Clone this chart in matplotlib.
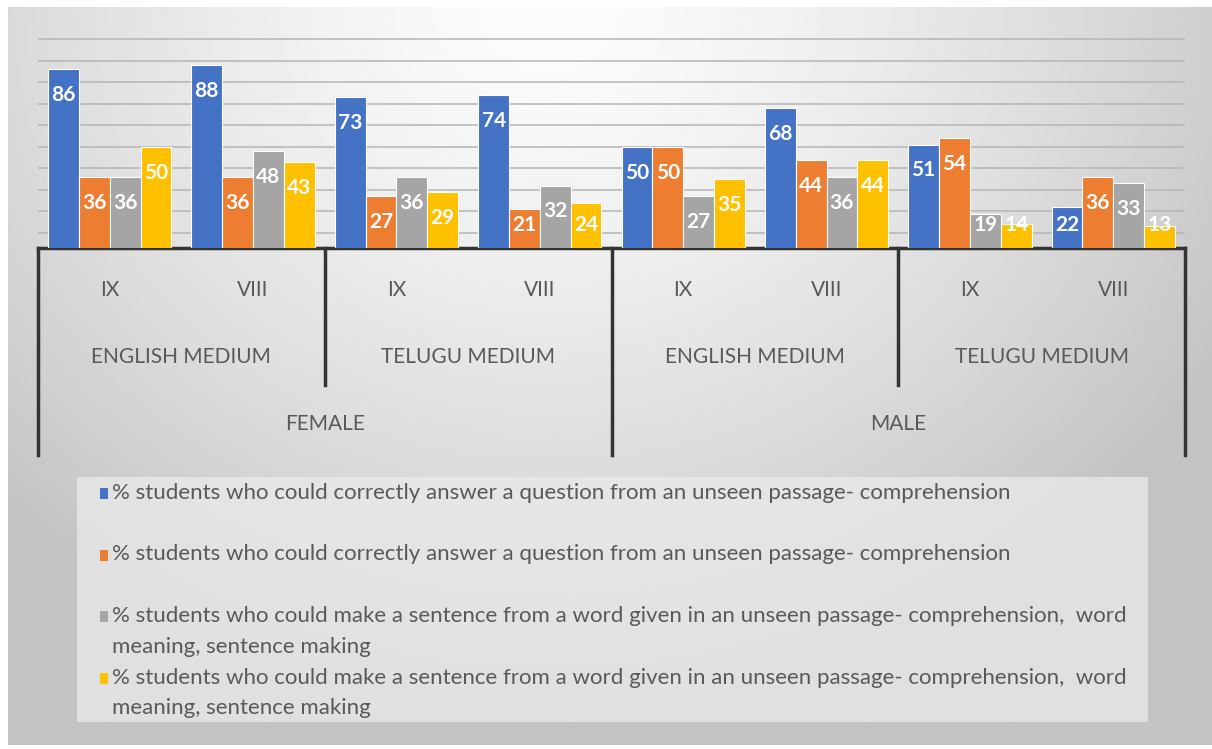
import numpy as np
import matplotlib
matplotlib.use("Agg")
import matplotlib.pyplot as plt
from matplotlib.patches import Rectangle
import matplotlib.transforms as mtrans

plt.rcParams['font.family'] = ['Lato', 'DejaVu Sans']

grades = ['IX', 'VIII', 'IX', 'VIII', 'IX', 'VIII', 'IX', 'VIII']
mediums = ['ENGLISH MEDIUM', 'TELUGU MEDIUM', 'ENGLISH MEDIUM', 'TELUGU MEDIUM']
genders = ['FEMALE', 'MALE']

comprehension_a = [86, 88, 73, 74, 50, 68, 51, 22]
comprehension_b = [36, 36, 27, 21, 50, 44, 54, 36]
sentence_a = [36, 48, 36, 32, 27, 36, 19, 33]
sentence_b = [50, 43, 29, 24, 35, 44, 14, 13]

labels = [
    '% students who could correctly answer a question from an unseen passage- comprehension',
    '% students who could correctly answer a question from an unseen passage- comprehension',
    '% students who could make a sentence from a word given in an unseen passage- comprehension,  word\nmeaning, sentence making',
    '% students who could make a sentence from a word given in an unseen passage- comprehension,  word\nmeaning, sentence making',
]
series = [comprehension_a, comprehension_b, sentence_a, sentence_b]
colors = ['#4472C4', '#ED7D31', '#A5A5A5', '#FFC000']
text_col = '#595959'
line_col = '#333333'

W, H = 1212, 749
fig = plt.figure(figsize=(W / 100, H / 100), dpi=100, facecolor='white')

# gradient panel behind everything
bg = fig.add_axes([8 / W, 4 / H, 1 - 8 / W, 1 - 11 / H], zorder=-10)
yy, xx = np.mgrid[0:1:300j, 0:1:600j]
dist = np.sqrt(((xx - 0.45) / 0.75) ** 2 + ((yy - 0.0) / 1.1) ** 2)
shade = np.clip(252 - 70 * dist ** 1.4, 195, 252) / 255.0
bg.imshow(shade, cmap='gray', vmin=0, vmax=1, aspect='auto', extent=[0, 1, 0, 1], origin='upper')
bg.axis('off')

# lighter legend panel
fig.patches.append(Rectangle((77 / W, 1 - 722 / H), (1148 - 77) / W, (722 - 477) / H,
                             transform=fig.transFigure, facecolor='#ebebeb', edgecolor='none',
                             alpha=0.75, zorder=-5))

ax = fig.add_axes([38 / W, 1 - 248 / H, (1185 - 38) / W, (248 - 38) / H])
ax.patch.set_alpha(0)

x = np.arange(len(grades))
bw = 0.215
for i, (vals, c) in enumerate(zip(series, colors)):
    pos = x + (i - 1.5) * bw
    ax.bar(pos, vals, width=bw, color=c, edgecolor='white', linewidth=0.8, zorder=3)
    for px, v in zip(pos, vals):
        ax.text(px, max(v - 12, 13.5), str(v), ha='center', va='center', color='white',
                fontsize=15, fontweight='bold', zorder=4)

ax.set_ylim(3, 100.5)
ax.set_xlim(-0.5, len(grades) - 0.5)
ax.set_yticks(np.arange(10, 101, 10))
ax.yaxis.grid(True, color='#b5b5b5', linewidth=1.1, zorder=0)
ax.tick_params(left=False, bottom=False, labelleft=False, labelbottom=False)
for s in ['left', 'right', 'top']:
    ax.spines[s].set_visible(False)
ax.spines['bottom'].set_color(line_col)
ax.spines['bottom'].set_linewidth(2.5)

# multi-level category axis
trans = mtrans.blended_transform_factory(ax.transData, ax.transAxes)
for xb in [-0.5, 3.5, 7.5]:
    ax.plot([xb, xb], [0, -0.986], color=line_col, lw=2.5, transform=trans, clip_on=False)
for xb in [1.5, 5.5]:
    ax.plot([xb, xb], [0, -0.652], color=line_col, lw=2.5, transform=trans, clip_on=False)

for xi, g in zip(x, grades):
    ax.text(xi, -0.2, g, ha='center', va='center', color=text_col, fontsize=15, transform=trans)
for k, m in enumerate(mediums):
    ax.text(2 * k + 0.5, -0.519, m, ha='center', va='center', color=text_col, fontsize=15,
            transform=trans)
for k, g in enumerate(genders):
    ax.text(4 * k + 1.5, -0.838, g, ha='center', va='center', color=text_col, fontsize=15,
            transform=trans)

# legend, one slot per series, text top aligned
slot = 61.5
for i, (lab, c) in enumerate(zip(labels, colors)):
    ytop = 493 + i * slot
    fig.patches.append(Rectangle((100 / W, 1 - (ytop + 6) / H), 8 / W, 11 / H,
                                 transform=fig.transFigure, facecolor=c, edgecolor='none'))
    fig.text(112 / W, 1 - (ytop - 10) / H, lab, ha='left', va='top', color=text_col,
             fontsize=16, linespacing=1.68)

fig.savefig('out.png', dpi=100, facecolor='white')
